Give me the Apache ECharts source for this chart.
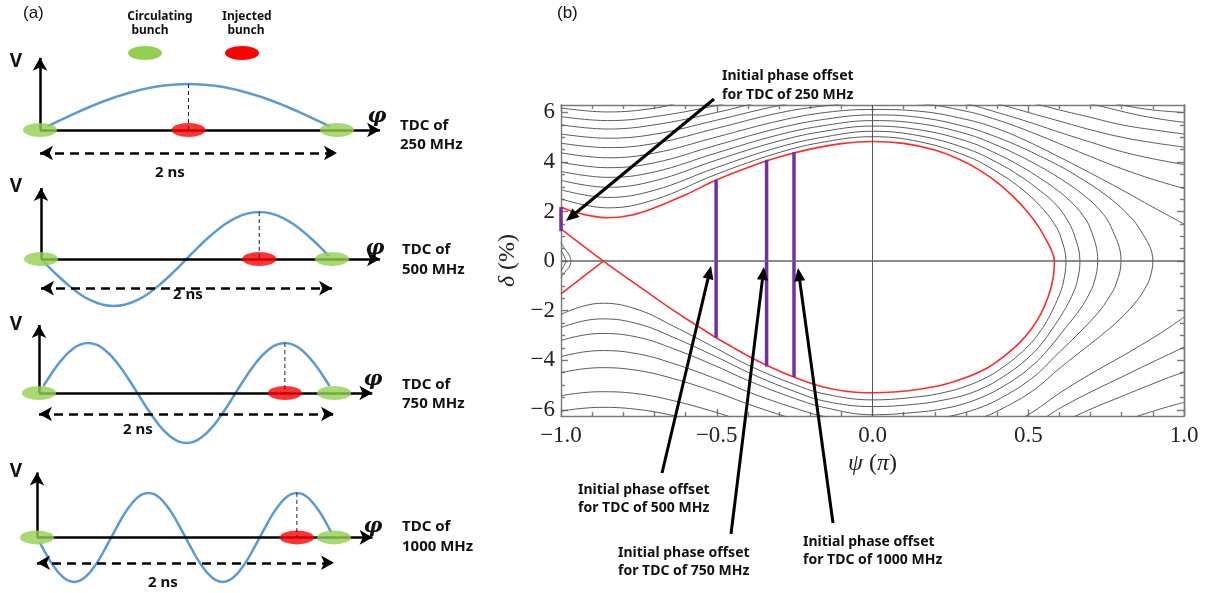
<!DOCTYPE html>
<html lang="en">
<head>
<meta charset="UTF-8">
<title>TDC phase offset</title>
<script src="https://cdn.jsdelivr.net/npm/echarts@6/dist/echarts.min.js"></script>
<style>
  html, body { margin: 0; padding: 0; background: #fff; }
  #chart { width: 1207px; height: 593px; }
</style>
</head>
<body>
<div id="chart"></div>
<script>
// ---------- panel (a): RF waveforms (t in ns, V normalised) ----------
var tdcNames = ['250 MHz', '500 MHz', '750 MHz', '1000 MHz'];
var wave250 = [[0.05,0.08],[0.167,0.259],[0.333,0.5],[0.5,0.707],[0.667,0.866],[0.833,0.966],[1,1],[1.167,0.966],[1.333,0.866],[1.5,0.707],[1.667,0.5],[1.833,0.259],[1.95,0.08]];
var wave500 = [[0.02,-0.06],[0.083,-0.259],[0.167,-0.5],[0.25,-0.707],[0.333,-0.866],[0.417,-0.966],[0.5,-1],[0.583,-0.966],[0.667,-0.866],[0.75,-0.707],[0.833,-0.5],[0.917,-0.259],[1,0],[1.083,0.259],[1.167,0.5],[1.25,0.707],[1.333,0.866],[1.417,0.966],[1.5,1],[1.583,0.966],[1.667,0.866],[1.75,0.707],[1.833,0.5],[1.917,0.259],[1.98,0.06]];
var wave750 = [[0.03,0.14],[0.056,0.259],[0.111,0.5],[0.167,0.707],[0.222,0.866],[0.278,0.966],[0.333,1],[0.389,0.966],[0.444,0.866],[0.5,0.707],[0.556,0.5],[0.611,0.259],[0.667,0],[0.722,-0.259],[0.778,-0.5],[0.833,-0.707],[0.889,-0.866],[0.944,-0.966],[1,-1],[1.056,-0.966],[1.111,-0.866],[1.167,-0.707],[1.222,-0.5],[1.278,-0.259],[1.333,0],[1.389,0.259],[1.444,0.5],[1.5,0.707],[1.556,0.866],[1.611,0.966],[1.667,1],[1.722,0.966],[1.778,0.866],[1.833,0.707],[1.889,0.5],[1.944,0.259],[1.97,0.14]];
var wave1000 = [[0.02,-0.12],[0.042,-0.259],[0.083,-0.5],[0.125,-0.707],[0.167,-0.866],[0.208,-0.966],[0.25,-1],[0.292,-0.966],[0.333,-0.866],[0.375,-0.707],[0.417,-0.5],[0.458,-0.259],[0.5,0],[0.542,0.259],[0.583,0.5],[0.625,0.707],[0.667,0.866],[0.708,0.966],[0.75,1],[0.792,0.966],[0.833,0.866],[0.875,0.707],[0.917,0.5],[0.958,0.259],[1,0],[1.042,-0.259],[1.083,-0.5],[1.125,-0.707],[1.167,-0.866],[1.208,-0.966],[1.25,-1],[1.292,-0.966],[1.333,-0.866],[1.375,-0.707],[1.417,-0.5],[1.458,-0.259],[1.5,0],[1.542,0.259],[1.583,0.5],[1.625,0.707],[1.667,0.866],[1.708,0.966],[1.75,1],[1.792,0.966],[1.833,0.866],[1.875,0.707],[1.917,0.5],[1.958,0.259],[1.98,0.12]];
var waves = [wave250, wave500, wave750, wave1000];
var injectedT = [1.0, 1.5, 1.667, 1.75];
var circulatingT = [0, 2];
var spanLabel = '2 ns';

// ---------- panel (b): phase space, psi in units of pi, delta in % ----------
var sepMain = [[-1,2.18],[-0.97,2.03],[-0.91,1.84],[-0.85,1.75],[-0.78,1.84],[-0.7,2.15],[-0.6,2.68],[-0.5,3.28],[-0.4,3.78],[-0.3,4.2],[-0.2,4.52],[-0.1,4.74],[0,4.83],[0.1,4.75],[0.2,4.48],[0.28,4.1],[0.35,3.62],[0.41,3.08],[0.46,2.5],[0.5,1.95],[0.535,1.35],[0.56,0.8],[0.576,0.4],[0.584,0],[0.582,-0.47],[0.578,-0.8],[0.565,-1.41],[0.54,-2.14],[0.51,-2.74],[0.47,-3.32],[0.42,-3.86],[0.37,-4.3],[0.3,-4.7],[0.23,-4.98],[0.15,-5.17],[0.08,-5.27],[0,-5.31],[-0.08,-5.26],[-0.158,-5.08],[-0.252,-4.68],[-0.34,-4.2],[-0.393,-3.87],[-0.45,-3.47],[-0.502,-3.09],[-0.57,-2.55],[-0.639,-1.99],[-0.746,-1.05],[-0.864,0],[-1,1.3]];
var sepLeft = [[-1,-1.32],[-0.864,0]];

var wrapLines = [
  [[-1,2.51],[-0.85,2.15],[-0.7,2.48],[-0.5,3.51],[-0.3,4.38],[-0.15,4.82],[0,5.02],[0.15,4.82],[0.3,4.25],[0.4,3.6],[0.48,2.9],[0.54,2.2],[0.584,1.5],[0.605,0.95],[0.621,0],[0.613,-0.84],[0.6,-1.36],[0.584,-1.82],[0.565,-2.3],[0.54,-2.81],[0.51,-3.29],[0.47,-3.78],[0.42,-4.27],[0.37,-4.67],[0.3,-5.05],[0.23,-5.3],[0.15,-5.47],[0,-5.6],[-0.15,-5.37],[-0.25,-4.98],[-0.39,-4.25],[-0.5,-3.53],[-0.64,-2.62],[-0.75,-1.97],[-0.864,-1.7],[-0.93,-1.82],[-1,-2.15]],
  [[-1,2.88],[-0.85,2.57],[-0.7,2.86],[-0.5,3.78],[-0.3,4.6],[-0.15,5.02],[0,5.24],[0.15,5.06],[0.3,4.55],[0.4,3.98],[0.48,3.38],[0.54,2.82],[0.584,2.35],[0.621,1.75],[0.648,1.05],[0.666,0],[0.658,-0.77],[0.645,-1.26],[0.621,-1.87],[0.584,-2.61],[0.54,-3.38],[0.51,-3.78],[0.47,-4.22],[0.42,-4.66],[0.37,-5.03],[0.3,-5.39],[0.23,-5.6],[0.15,-5.76],[0,-5.87],[-0.15,-5.66],[-0.25,-5.26],[-0.39,-4.54],[-0.5,-3.87],[-0.64,-3.07],[-0.75,-2.54],[-0.864,-2.33],[-0.93,-2.42],[-1,-2.68]],
  [[-1,3.26],[-0.85,2.98],[-0.7,3.24],[-0.5,4.08],[-0.3,4.85],[-0.15,5.25],[0,5.45],[0.15,5.3],[0.3,4.85],[0.4,4.33],[0.48,3.8],[0.54,3.33],[0.584,2.95],[0.621,2.58],[0.666,2.0],[0.7,1.3],[0.723,0],[0.712,-0.84],[0.695,-1.34],[0.666,-1.95],[0.621,-2.67],[0.584,-3.26],[0.54,-3.9],[0.51,-4.25],[0.47,-4.65],[0.42,-5.05],[0.37,-5.39],[0.3,-5.73],[0.23,-5.95],[0.15,-6.09],[0,-6.2],[-0.15,-5.92],[-0.25,-5.54],[-0.39,-4.87],[-0.5,-4.25],[-0.64,-3.53],[-0.75,-3.08],[-0.864,-2.92],[-0.93,-2.99],[-1,-3.2]],
  [[-1,3.62],[-0.85,3.38],[-0.7,3.6],[-0.5,4.37],[-0.3,5.1],[-0.15,5.48],[0,5.67],[0.15,5.55],[0.3,5.14],[0.4,4.67],[0.48,4.2],[0.54,3.8],[0.584,3.48],[0.621,3.18],[0.666,2.78],[0.723,2.15],[0.765,1.4],[0.798,0],[0.783,-0.89],[0.76,-1.45],[0.723,-2.1],[0.666,-2.86],[0.621,-3.42],[0.584,-3.87],[0.54,-4.43],[0.51,-4.74],[0.47,-5.1],[0.42,-5.47],[0.37,-5.79],[0.3,-6.1],[0.23,-6.3],[0.15,-6.43],[0,-6.5],[-0.15,-6.28],[-0.25,-5.93],[-0.39,-5.32],[-0.5,-4.76],[-0.64,-4.13],[-0.75,-3.75],[-0.864,-3.61],[-0.93,-3.67],[-1,-3.85]],
  [[-1,3.99],[-0.85,3.77],[-0.7,3.97],[-0.5,4.68],[-0.3,5.37],[-0.15,5.73],[0,5.9],[0.15,5.8],[0.3,5.42],[0.4,5.0],[0.48,4.58],[0.54,4.22],[0.584,3.95],[0.621,3.7],[0.666,3.36],[0.723,2.9],[0.798,2.15],[0.86,1.25],[0.9,0],[0.89,-0.7],[0.875,-1.1],[0.85,-1.58],[0.798,-2.3],[0.723,-3.11],[0.666,-3.67],[0.621,-4.12],[0.584,-4.5],[0.54,-4.99],[0.51,-5.27],[0.47,-5.59],[0.42,-5.93],[0.37,-6.23],[0.3,-6.52],[0.15,-6.85],[0,-6.9],[-0.15,-6.7],[-0.25,-6.38],[-0.39,-5.81],[-0.5,-5.3],[-0.64,-4.74],[-0.75,-4.42],[-0.864,-4.3],[-0.93,-4.35],[-1,-4.5]]
];

var upperLines = [
  [[-1,4.37],[-0.85,4.17],[-0.7,4.36],[-0.5,5.01],[-0.3,5.66],[-0.15,6.0],[0,6.12],[0.15,6.05],[0.3,5.72],[0.4,5.35],[0.5,4.82],[0.6,4.2],[0.7,3.55],[0.8,2.88],[0.9,2.18],[1,1.5]],
  [[-1,4.76],[-0.85,4.58],[-0.7,4.75],[-0.5,5.36],[-0.3,5.98],[-0.15,6.27],[0,6.4],[0.15,6.35],[0.3,6.05],[0.4,5.7],[0.5,5.25],[0.6,4.74],[0.7,4.22],[0.8,3.73],[0.9,3.3],[1,2.93]],
  [[-1,5.13],[-0.85,4.96],[-0.7,5.12],[-0.5,5.69],[-0.3,6.28],[-0.15,6.6],[0,6.75],[0.15,6.65],[0.3,6.35],[0.4,6.0],[0.5,5.62],[0.6,5.2],[0.7,4.8],[0.8,4.42],[0.9,4.13],[1,3.9]],
  [[-1,5.5],[-0.85,5.33],[-0.7,5.5],[-0.5,6.0],[-0.35,6.45],[-0.2,6.8],[0.25,6.8],[0.4,6.35],[0.5,6.0],[0.6,5.65],[0.7,5.3],[0.8,5.0],[0.9,4.78],[1,4.6]],
  [[-1,5.83],[-0.85,5.67],[-0.7,5.83],[-0.5,6.28],[-0.35,6.7],[0.35,6.8],[0.5,6.42],[0.6,6.1],[0.7,5.8],[0.8,5.5],[0.9,5.3],[1,5.13]],
  [[-1,6.18],[-0.85,6.02],[-0.7,6.17],[-0.55,6.55],[0.55,6.9],[0.65,6.5],[0.75,6.2],[0.85,5.9],[0.93,5.72],[1,5.6]],
  [[0.7,6.6],[0.8,6.3],[0.9,6.1],[1,6.0]]
];

var lowerLines = [
  [[-1,-5.43],[-0.93,-5.31],[-0.864,-5.27],[-0.75,-5.36],[-0.64,-5.63],[-0.5,-6.11],[-0.39,-6.56],[-0.2,-7.1],[0.2,-7.1],[0.4,-6.8],[0.47,-6.4],[0.51,-6.12],[0.54,-5.87],[0.584,-5.47],[0.621,-5.16],[0.666,-4.81],[0.723,-4.39],[0.798,-3.86],[0.85,-3.48],[0.9,-3.1],[0.95,-2.7],[1,-2.26]],
  [[-1,-6.05],[-0.93,-5.94],[-0.864,-5.9],[-0.75,-5.99],[-0.64,-6.23],[-0.55,-6.5],[-0.4,-6.9],[0.4,-7.1],[0.51,-6.7],[0.54,-6.44],[0.584,-6.07],[0.621,-5.8],[0.666,-5.5],[0.723,-5.14],[0.798,-4.69],[0.85,-4.37],[0.9,-4.07],[0.95,-3.77],[1,-3.47]],
  [[0.5,-7.1],[0.584,-6.7],[0.621,-6.44],[0.666,-6.17],[0.723,-5.85],[0.798,-5.47],[0.85,-5.2],[0.9,-4.95],[0.95,-4.7],[1,-4.48]],
  [[0.65,-7.1],[0.723,-6.81],[0.798,-6.48],[0.85,-6.26],[0.9,-6.06],[0.95,-5.87],[1,-5.7]]
];

var edgeArcs = [
  [[-1,0.75],[-0.988,0.5],[-0.972,0.2],[-0.969,0],[-0.972,-0.2],[-0.988,-0.45],[-1,-0.66]],
  [[-1,0.42],[-0.992,0.25],[-0.985,0],[-0.992,-0.22],[-1,-0.38]]
];

var purplePsi = [-1.0, -0.502, -0.34, -0.252];
var purpleTop = [2.18, 3.28, 4.09, 4.40];
var purpleBottom = [1.21, -3.09, -4.25, -4.68];

var yLabelValues = [-6, -4, -2, 0, 2, 4, 6];
var offsetNotes = ['250 MHz', '500 MHz', '750 MHz', '1000 MHz'];

// ---------- layout ----------
var subLayout = [
  {x0: 40, pxT: 148.5, y0: 130, amp: 46, tipV: 1.57, tipT: 2.29, arrowV: -0.5},
  {x0: 41, pxT: 145.5, y0: 259, amp: 47, tipV: 1.51, tipT: 2.33, arrowV: -0.62},
  {x0: 39, pxT: 147.5, y0: 393, amp: 50, tipV: 1.36, tipT: 2.26, arrowV: -0.42},
  {x0: 37, pxT: 148.5, y0: 540, amp: 46, tipV: 1.46, tipT: 2.26, arrowV: -0.57}
];
var subText = [
  {v: [16, 62], phi: [377, 117], ns: [170, 173], tdc: [400, 126, 145]},
  {v: [16, 187], phi: [375, 249], ns: [188, 295], tdc: [402, 250, 270]},
  {v: [16, 325], phi: [373, 380], ns: [138, 430], tdc: [402, 385, 404]},
  {v: [16, 472], phi: [373, 527], ns: [163, 583], tdc: [402, 527, 547]}
];
var V_MAX = 1.7, V_MIN = -1.25, T_MAX = 2.4;

var grids = [], xAxes = [], yAxes = [], series = [], graphics = [];
var green = '#92d050', red = '#ff0000', blue = '#5b9bd5';
var boldFont = '"Noto Sans", "DejaVu Sans", sans-serif';

subLayout.forEach(function (L, i) {
  grids.push({left: L.x0, top: L.y0 - L.amp * V_MAX, width: L.pxT * T_MAX, height: L.amp * (V_MAX - V_MIN)});
  xAxes.push({gridIndex: i, type: 'value', min: 0, max: T_MAX, show: false});
  yAxes.push({gridIndex: i, type: 'value', min: V_MIN, max: V_MAX, show: false});
  var tInj = injectedT[i];
  series.push({
    type: 'line', xAxisIndex: i, yAxisIndex: i, data: waves[i], smooth: 0.5,
    showSymbol: false, lineStyle: {color: blue, width: 2.5}, z: 3, silent: true,
    markLine: {
      silent: true, animation: false, label: {show: false},
      symbolSize: [11, 13],
      data: [
        [{coord: [0, 0], symbol: 'none', lineStyle: {color: '#000', width: 2.5, type: 'solid'}}, {coord: [0, L.tipV], symbol: 'arrow'}],
        [{coord: [0, 0], symbol: 'none', lineStyle: {color: '#000', width: 2.5, type: 'solid'}}, {coord: [L.tipT, 0], symbol: 'arrow'}],
        [{coord: [0, L.arrowV], symbol: 'arrow', lineStyle: {color: '#000', width: 2.5, type: [9, 6]}}, {coord: [2, L.arrowV], symbol: 'arrow'}]
      ]
    }
  });
  series.push({
    type: 'line', xAxisIndex: i, yAxisIndex: i, data: [[tInj, 1], [tInj, 0]],
    showSymbol: false, lineStyle: {color: '#222', width: 1, type: [4, 3]}, z: 7, silent: true
  });
  series.push({
    type: 'scatter', xAxisIndex: i, yAxisIndex: i, symbol: 'circle', symbolSize: [34, 14],
    data: circulatingT.map(function (t) { return [t, 0]; }), itemStyle: {color: green}, z: 5, silent: true
  });
  series.push({
    type: 'scatter', xAxisIndex: i, yAxisIndex: i, symbol: 'circle', symbolSize: [34, 14],
    data: [[tInj, 0]], itemStyle: {color: red}, z: 6, silent: true
  });

  var T = subText[i];
  graphics.push({type: 'text', x: T.v[0], y: T.v[1], style: {text: 'V', font: 'bold 19px ' + boldFont, fill: '#111', textAlign: 'center', textVerticalAlign: 'middle'}});
  graphics.push({type: 'text', x: T.phi[0], y: T.phi[1], style: {text: 'φ', font: 'italic bold 21px "DejaVu Serif", serif', fill: '#111', textAlign: 'center', textVerticalAlign: 'middle'}});
  graphics.push({type: 'text', x: T.ns[0], y: T.ns[1], style: {text: spanLabel, font: 'bold 15px ' + boldFont, fill: '#111', textAlign: 'center', textVerticalAlign: 'middle'}});
  graphics.push({type: 'text', x: T.tdc[0], y: T.tdc[1], style: {text: 'TDC of', font: 'bold 15px ' + boldFont, fill: '#111', textAlign: 'left', textVerticalAlign: 'middle'}});
  graphics.push({type: 'text', x: T.tdc[0], y: T.tdc[2], style: {text: tdcNames[i], font: 'bold 15px ' + boldFont, fill: '#111', textAlign: 'left', textVerticalAlign: 'middle'}});
});

// legend of panel (a)
graphics.push({type: 'text', x: 160, y: 17, style: {text: 'Circulating', font: 'bold 12px ' + boldFont, fill: '#111', textAlign: 'center', textVerticalAlign: 'middle'}});
graphics.push({type: 'text', x: 150, y: 31, style: {text: 'bunch', font: 'bold 12px ' + boldFont, fill: '#111', textAlign: 'center', textVerticalAlign: 'middle'}});
graphics.push({type: 'text', x: 247, y: 17, style: {text: 'Injected', font: 'bold 12px ' + boldFont, fill: '#111', textAlign: 'center', textVerticalAlign: 'middle'}});
graphics.push({type: 'text', x: 246, y: 31, style: {text: 'bunch', font: 'bold 12px ' + boldFont, fill: '#111', textAlign: 'center', textVerticalAlign: 'middle'}});
graphics.push({type: 'ellipse', shape: {cx: 145, cy: 53, rx: 17, ry: 7}, style: {fill: green}});
graphics.push({type: 'ellipse', shape: {cx: 242, cy: 53, rx: 17, ry: 7}, style: {fill: red}});
graphics.push({type: 'text', x: 23, y: 13, style: {text: '(a)', font: '17px "Liberation Sans", Arial, sans-serif', fill: '#111', textAlign: 'left', textVerticalAlign: 'middle'}});
graphics.push({type: 'text', x: 557, y: 13, style: {text: '(b)', font: '17px "Liberation Sans", Arial, sans-serif', fill: '#111', textAlign: 'left', textVerticalAlign: 'middle'}});

// ---------- panel (b) axes ----------
var G = 4;
grids.push({left: 561, top: 105, width: 623, height: 311});
var frame = {color: '#7a7a7a', width: 1.4};
var serif = '"Liberation Serif", "Times New Roman", serif';
function fmt(v) { return (v < 0 ? '\u2212' : '') + Math.abs(v); }
xAxes.push({
  gridIndex: G, type: 'value', min: -1, max: 1, interval: 0.5, position: 'bottom',
  axisLine: {show: true, onZero: false, lineStyle: frame},
  axisTick: {show: true, inside: true, length: 7, lineStyle: frame},
  minorTick: {show: true, splitNumber: 5, length: 4, lineStyle: frame},
  splitLine: {show: false},
  axisLabel: {margin: 8, color: '#222', fontFamily: serif, fontSize: 23,
    formatter: function (v) { return (v < 0 ? '\u2212' : '') + Math.abs(v).toFixed(1); }},
  name: '{i|ψ} ({i|π})', nameLocation: 'middle', nameGap: 36,
  nameTextStyle: {color: '#222', fontFamily: serif, fontSize: 24, rich: {i: {fontStyle: 'italic', fontFamily: serif, fontSize: 24, color: '#222'}}}
});
xAxes.push({
  gridIndex: G, type: 'value', min: -1, max: 1, interval: 0.5, position: 'top',
  axisLine: {show: true, onZero: false, lineStyle: frame},
  axisTick: {show: true, inside: true, length: 7, lineStyle: frame},
  minorTick: {show: true, splitNumber: 5, length: 4, lineStyle: frame},
  splitLine: {show: false}, axisLabel: {show: false}
});
var yMinor = [];
for (var k = -12; k <= 12; k++) { if (k % 4 !== 0) yMinor.push(k / 2); }
function yAxisCfg(pos, values, len, labels) {
  return {
    gridIndex: G, type: 'value', min: -6.25, max: 6.3, position: pos,
    axisLine: {show: labels !== null || pos === 'right', onZero: false, lineStyle: frame},
    axisTick: {show: true, inside: true, length: len, lineStyle: frame, customValues: values},
    splitLine: {show: false},
    axisLabel: labels ? {show: true, customValues: labels, margin: 6, color: '#222', fontFamily: serif, fontSize: 23, formatter: fmt} : {show: false}
  };
}
var yMain = yAxisCfg('left', yLabelValues, 7, yLabelValues);
yMain.name = '{i|δ} (%)';
yMain.nameLocation = 'middle';
yMain.nameRotate = 90;
yMain.nameGap = 38;
yMain.nameTextStyle = {color: '#222', fontFamily: serif, fontSize: 24, rich: {i: {fontStyle: 'italic', fontFamily: serif, fontSize: 24, color: '#222'}}};
yAxes.push(yMain);
yAxes.push(yAxisCfg('left', yMinor, 4, null));
yAxes.push(yAxisCfg('right', yLabelValues, 7, null));
yAxes.push(yAxisCfg('right', yMinor, 4, null));

function curve(points, color, width, z) {
  return {type: 'line', xAxisIndex: G, yAxisIndex: G, data: points, smooth: 0.4, showSymbol: false,
    lineStyle: {color: color, width: width}, clip: true, silent: true, z: z};
}
// zero lines
series.push({
  type: 'line', xAxisIndex: G, yAxisIndex: G, data: [], silent: true,
  markLine: {silent: true, symbol: 'none', label: {show: false}, animation: false,
    data: [
      {xAxis: 0, lineStyle: {color: '#555', width: 1, type: 'solid'}},
      {yAxis: 0, lineStyle: {color: '#666', width: 1.6, type: 'solid'}}
    ]}
});
wrapLines.concat(upperLines, lowerLines, edgeArcs).forEach(function (c) {
  series.push(curve(c, '#5a5a5a', 1, 2));
});
series.push(curve(sepMain, '#ff2a2a', 1.6, 3));
series.push(Object.assign(curve(sepLeft, '#ff2a2a', 1.6, 3), {smooth: false}));
purplePsi.forEach(function (p, i) {
  series.push({type: 'line', xAxisIndex: G, yAxisIndex: G, data: [[p, purpleTop[i]], [p, purpleBottom[i]]],
    showSymbol: false, lineStyle: {color: '#7030a0', width: 3.5}, clip: false, silent: true, z: 4});
});

// ---------- annotations of panel (b) ----------
function arrow(x1, y1, x2, y2) {
  var a = Math.atan2(y2 - y1, x2 - x1), L = 13, W = 5.5;
  var bx = x2 - L * Math.cos(a), by = y2 - L * Math.sin(a);
  var px = -Math.sin(a) * W, py = Math.cos(a) * W;
  graphics.push({type: 'line', shape: {x1: x1, y1: y1, x2: bx, y2: by}, style: {stroke: '#000', lineWidth: 3}, z: 10});
  graphics.push({type: 'polygon', shape: {points: [[x2, y2], [bx + px, by + py], [bx - px, by - py]]}, style: {fill: '#000'}, z: 10});
}
arrow(714, 99, 566, 221);
arrow(662, 473, 711, 266);
arrow(731, 534, 764, 267);
arrow(833, 523, 798, 268);
var notePos = [[722, 76, 95], [578, 490, 508], [618, 553, 571], [803, 542, 560]];
notePos.forEach(function (p, i) {
  graphics.push({type: 'text', x: p[0], y: p[1], style: {text: 'Initial phase offset', font: 'bold 14px ' + boldFont, fill: '#111', textAlign: 'left', textVerticalAlign: 'middle'}, z: 11});
  graphics.push({type: 'text', x: p[0], y: p[2], style: {text: 'for TDC of ' + offsetNotes[i], font: 'bold 14px ' + boldFont, fill: '#111', textAlign: 'left', textVerticalAlign: 'middle'}, z: 11});
});

var chart = echarts.init(document.getElementById('chart'));
chart.setOption({
  animation: false,
  backgroundColor: '#fff',
  grid: grids,
  xAxis: xAxes,
  yAxis: yAxes,
  series: series,
  graphic: {elements: graphics}
});
</script>
</body>
</html>
